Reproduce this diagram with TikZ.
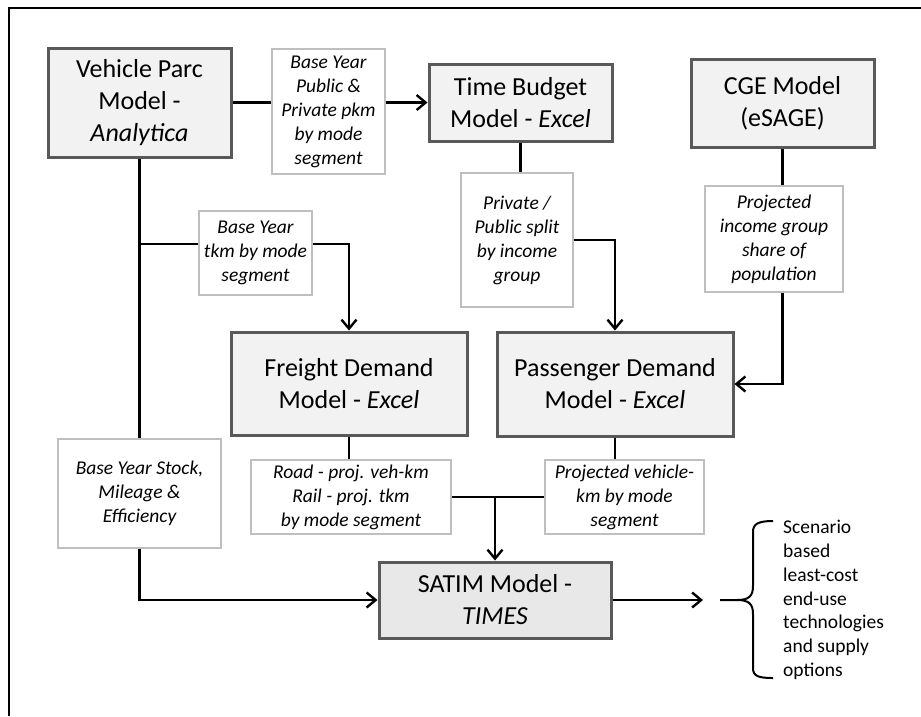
\documentclass[tikz,border=0pt]{standalone}
\usepackage{fontspec}
\setmainfont{Carlito}
\usetikzlibrary{arrows.meta}
\definecolor{boxborder}{HTML}{595959}
\definecolor{boxfill}{HTML}{F2F2F2}
\definecolor{satfill}{HTML}{E8E8E8}
\definecolor{lblborder}{HTML}{BFBFBF}
\begin{document}
\begin{tikzpicture}[x=1pt,y=-1pt,
  model/.style={draw=boxborder, line width=3pt, fill=boxfill, inner sep=0pt, align=center, font=\fontsize{26}{32}\selectfont},
  lbl/.style={draw=lblborder, line width=1.3pt, fill=white, inner sep=0pt, align=center, font=\fontsize{19.5}{24}\selectfont\itshape},
  conn/.style={line width=2.4pt},
  arr/.style={conn, -{Straight Barb[length=9pt,width=15pt]}}]
\useasboundingbox (0,0) rectangle (921,716);
\draw[line width=1.5pt] (9,716) -- (9,8) -- (921,8);
% models
\node[model, minimum width=183pt, minimum height=109pt] (vp) at (139.5,102.5) {Vehicle Parc\\Model -\\\textit{Analytica}};
\node[model, minimum width=183pt, minimum height=77pt] (tb) at (520.5,102.5) {Time Budget\\Model - \textit{Excel}};
\node[model, minimum width=183pt, minimum height=88pt] (cge) at (782.5,103) {CGE Model\\(eSAGE)};
\node[model, minimum width=236pt, minimum height=103pt] (fd) at (349,383.5) {Freight Demand\\Model - \textit{Excel}};
\node[model, minimum width=236pt, minimum height=104pt] (pd) at (615,384) {Passenger Demand\\Model - \textit{Excel}};
\node[model, fill=satfill, minimum width=232pt, minimum height=76pt] (satim) at (495,600) {SATIM Model -\\\textit{TIMES}};
% labels
\node[lbl, minimum width=113pt, minimum height=125pt] (l1) at (328.5,111.5) {Base Year\\Public \&\\Private pkm\\by mode\\segment};
\node[lbl, minimum width=113pt, minimum height=84pt] (l2) at (255.5,253) {Base Year\\tkm by mode\\segment};
\node[lbl, minimum width=112pt, minimum height=134pt] (l3) at (517,240) {Private /\\Public split\\by income\\group};
\node[lbl, minimum width=138pt, minimum height=106pt] (l4) at (774,239) {Projected\\income group\\share of\\population};
\node[lbl, minimum width=163pt, minimum height=109pt] (l5) at (139.5,493.5) {Base Year Stock,\\Mileage \&\\Efficiency};
\node[lbl, minimum width=200pt, minimum height=74pt] (l6) at (351,497) {Road - proj. veh-km\\Rail - proj. tkm\\by mode segment};
\node[lbl, minimum width=159pt, minimum height=74pt] (l7) at (624.5,497) {Projected vehicle-\\km by mode\\segment};
\node[anchor=west, align=left, inner sep=0pt, font=\fontsize{19.5}{23.8}\selectfont] (out) at (783,600) {Scenario\\based\\least-cost\\end-use\\technologies\\and supply\\options};
% connectors
\coordinate (j1) at (139.5,244);
\coordinate (outp) at (703,600);
\draw[conn] (vp.east) -- (l1.west |- vp.east);
\draw[arr] (l1.east |- vp.east) -- (tb.west |- vp.east);
\draw[conn] (vp.south) -- (l5.north);
\draw[conn] (j1) -- (l2.west |- j1);
\draw[arr] (l2.east |- j1) -| (fd.north);
\draw[conn] (tb.south) -- (tb.south |- l3.north);
\draw[arr] (l3.east) -| (pd.north);
\draw[conn] (cge.south) -- (cge.south |- l4.north);
\draw[arr] (cge.south |- l4.south) |- (pd.east);
\draw[conn] (fd.south) -- (fd.south |- l6.north);
\draw[conn] (pd.south) -- (pd.south |- l7.north);
\draw[conn] (l6.east) -- (l7.west);
\draw[arr] (satim.north |- l6.east) -- (satim.north);
\draw[arr] (l5.south) |- (satim.west);
\draw[arr] (satim.east) -- (outp);
% brace
\draw[line width=2pt] (720,600) -- (737,600) .. controls (749,600) and (753,596) .. (753,586) -- (753,532) .. controls (753,524) and (758,521) .. (773,521);
\draw[line width=2pt] (737,600) .. controls (749,600) and (753,604) .. (753,614) -- (753,668) .. controls (753,676) and (758,678) .. (773,678);
\end{tikzpicture}
\end{document}
